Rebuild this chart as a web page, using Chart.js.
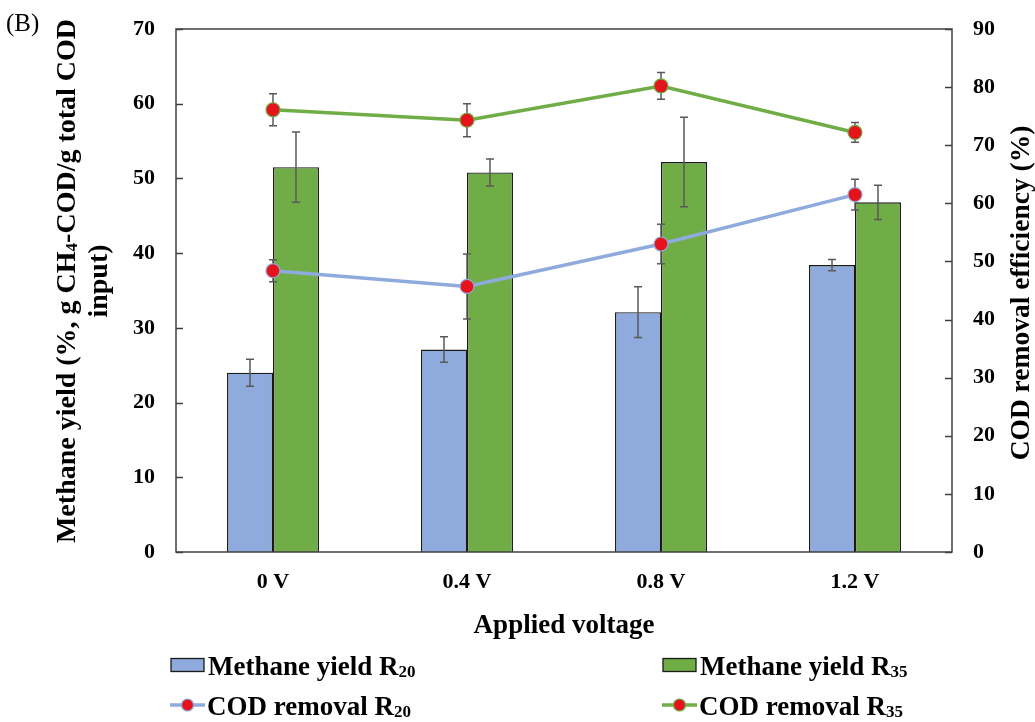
<!DOCTYPE html>
<html>
<head>
<meta charset="utf-8">
<script src="https://cdn.jsdelivr.net/npm/chart.js@4.4.1/dist/chart.umd.min.js"></script>
<style>
  html, body { margin: 0; padding: 0; background: #ffffff; }
  #wrap { width: 1035px; height: 722px; position: relative; }
</style>
</head>
<body>
<div id="wrap"><canvas id="chart" width="1035" height="722"></canvas></div>
<script>
// ---- data ----
const categories = ['0 V', '0.4 V', '0.8 V', '1.2 V'];

const yieldR20    = [24.0, 27.1, 32.1, 38.4];
const yieldR20Err = [1.8, 1.7, 3.4, 0.75];
const yieldR35    = [51.5, 50.8, 52.2, 46.8];
const yieldR35Err = [4.7, 1.8, 6.0, 2.3];

const codR20    = [48.4, 45.7, 53.0, 61.5];
const codR20Err = [1.9, 5.6, 3.4, 2.65];
const codR35    = [76.1, 74.3, 80.2, 72.2];
const codR35Err = [2.75, 2.85, 2.3, 1.7];

const yieldTicks = [0, 10, 20, 30, 40, 50, 60, 70];
const codTicks   = [0, 10, 20, 30, 40, 50, 60, 70, 80, 90];

// label text split into [main, subscript]
const legendLabels = [
  ['Methane yield R', '20'],
  ['Methane yield R', '35'],
  ['COD removal R', '20'],
  ['COD removal R', '35']
];

// ---- styles ----
const FONT = "'Liberation Serif', 'Times New Roman', serif";
const BLUE = '#8FAADC';
const GREEN = '#70AD47';
const RED = '#E5141C';
const AXIS = '#404040';
const ERR = '#595959';

function fontStr(size, bold) {
  return (bold ? 'bold ' : '') + size + 'px ' + FONT;
}

// text made of segments, some of them subscripted
function richWidth(ctx, segs, size) {
  let w = 0;
  for (const s of segs) {
    ctx.font = fontStr(s.sub ? Math.round(size * 0.62) : size, true);
    w += ctx.measureText(s.t).width;
  }
  return w;
}
function drawRich(ctx, segs, x, baseline, size) {
  let cx = x;
  ctx.textAlign = 'left';
  ctx.textBaseline = 'alphabetic';
  for (const s of segs) {
    const sz = s.sub ? Math.round(size * 0.62) : size;
    ctx.font = fontStr(sz, true);
    ctx.fillText(s.t, cx, baseline + (s.sub ? size * 0.08 : 0));
    cx += ctx.measureText(s.t).width;
  }
}

// error bars drawn from each dataset's err array
const errorBars = {
  id: 'errorBars',
  drawFor(chart, idx) {
    const ds = chart.data.datasets[idx];
    if (!ds.err) return;
    const meta = chart.getDatasetMeta(idx);
    const scale = chart.scales[ds.yAxisID || 'y'];
    const ctx = chart.ctx;
    ctx.save();
    ctx.strokeStyle = ERR;
    ctx.lineWidth = 1.5;
    meta.data.forEach((el, i) => {
      const v = ds.data[i], e = ds.err[i];
      const x = el.x;
      const yTop = scale.getPixelForValue(v + e);
      const yBot = scale.getPixelForValue(v - e);
      ctx.beginPath();
      ctx.moveTo(x, yTop); ctx.lineTo(x, yBot);
      ctx.moveTo(x - 4, yTop); ctx.lineTo(x + 4, yTop);
      ctx.moveTo(x - 4, yBot); ctx.lineTo(x + 4, yBot);
      ctx.stroke();
    });
    ctx.restore();
  },
  beforeDatasetDraw(chart, args) {
    if (chart.data.datasets[args.index].type === 'line') this.drawFor(chart, args.index);
  },
  afterDatasetDraw(chart, args) {
    if (chart.data.datasets[args.index].type !== 'line') this.drawFor(chart, args.index);
  }
};

// frame, inward ticks, axis titles, panel tag and legend
const decorations = {
  id: 'decorations',
  afterDraw(chart) {
    const ctx = chart.ctx;
    const a = chart.chartArea;
    const yS = chart.scales.y, y1S = chart.scales.y1;
    ctx.save();

    // frame
    ctx.strokeStyle = AXIS;
    ctx.lineWidth = 1.5;
    ctx.strokeRect(a.left, a.top, a.right - a.left, a.bottom - a.top);

    // inward tick marks
    ctx.beginPath();
    yieldTicks.forEach(v => {
      const y = Math.round(yS.getPixelForValue(v)) + 0.5;
      ctx.moveTo(a.left, y); ctx.lineTo(a.left + 7, y);
    });
    codTicks.forEach(v => {
      const y = Math.round(y1S.getPixelForValue(v)) + 0.5;
      ctx.moveTo(a.right, y); ctx.lineTo(a.right - 7, y);
    });
    ctx.stroke();

    ctx.fillStyle = '#000';

    // panel tag
    ctx.font = fontStr(25, false);
    ctx.textAlign = 'left';
    ctx.textBaseline = 'alphabetic';
    ctx.fillText('(B)', 6, 31);

    // x title
    ctx.font = fontStr(27, true);
    ctx.textAlign = 'center';
    ctx.fillText('Applied voltage', (a.left + a.right) / 2, 633);

    // left title (two lines, rotated)
    const line1 = [{ t: 'Methane yield (%, g CH' }, { t: '4', sub: true }, { t: '-COD/g total COD' }];
    const line2 = [{ t: 'input)' }];
    const cy = 281;
    [[line1, 75], [line2, 107]].forEach(([segs, bx]) => {
      ctx.save();
      ctx.translate(bx, cy);
      ctx.rotate(-Math.PI / 2);
      const w = richWidth(ctx, segs, 28);
      drawRich(ctx, segs, -w / 2, 0, 28);
      ctx.restore();
    });

    // right title (rotated, reading upward)
    ctx.save();
    ctx.translate(1029, 293);
    ctx.rotate(-Math.PI / 2);
    ctx.font = fontStr(27.5, true);
    ctx.textAlign = 'center';
    ctx.textBaseline = 'alphabetic';
    ctx.fillText('COD removal efficiency (%)', 0, 0);
    ctx.restore();

    // legend
    const ds = chart.data.datasets;
    const entries = [
      { ds: ds[0], label: legendLabels[0], x: 171, y: 665, kind: 'box' },
      { ds: ds[1], label: legendLabels[1], x: 663, y: 665, kind: 'box' },
      { ds: ds[2], label: legendLabels[2], x: 170, y: 705, kind: 'line' },
      { ds: ds[3], label: legendLabels[3], x: 662, y: 705, kind: 'line' }
    ];
    entries.forEach(en => {
      if (en.kind === 'box') {
        ctx.fillStyle = en.ds.backgroundColor;
        ctx.fillRect(en.x, en.y - 6.5, 33, 13);
        ctx.strokeStyle = '#1a1a1a';
        ctx.lineWidth = 1.3;
        ctx.strokeRect(en.x, en.y - 6.5, 33, 13);
      } else {
        ctx.strokeStyle = en.ds.borderColor;
        ctx.lineWidth = 3.5;
        ctx.beginPath();
        ctx.moveTo(en.x, en.y); ctx.lineTo(en.x + 35, en.y);
        ctx.stroke();
        ctx.beginPath();
        ctx.arc(en.x + 17.5, en.y, 6, 0, Math.PI * 2);
        ctx.fillStyle = RED;
        ctx.fill();
        ctx.lineWidth = 1.2;
        ctx.stroke();
      }
      ctx.fillStyle = '#000';
      drawRich(ctx, [{ t: en.label[0] }, { t: en.label[1], sub: true }], en.x + 37, en.y + 9.5, 27);
    });

    ctx.restore();
  }
};

const tickFont = { family: FONT, size: 22, weight: 'bold' };

// vertical axes: fixed widths, no extra label overhang padding
function fitVertical(width) {
  return s => {
    s.width = width;
    s.paddingTop = 0;
    s.paddingBottom = 0;
  };
}

new Chart(document.getElementById('chart'), {
  type: 'bar',
  data: {
    labels: categories,
    datasets: [
      {
        type: 'bar', label: 'Methane yield R20', data: yieldR20, err: yieldR20Err,
        yAxisID: 'y', backgroundColor: BLUE, borderColor: '#1a1a1a', borderWidth: 1.4,
        barPercentage: 1, categoryPercentage: 0.474, order: 2
      },
      {
        type: 'bar', label: 'Methane yield R35', data: yieldR35, err: yieldR35Err,
        yAxisID: 'y', backgroundColor: GREEN, borderColor: '#1a1a1a', borderWidth: 1.4,
        barPercentage: 1, categoryPercentage: 0.474, order: 2
      },
      {
        type: 'line', label: 'COD removal R20', data: codR20, err: codR20Err,
        yAxisID: 'y1', borderColor: BLUE, borderWidth: 3.5, tension: 0,
        pointRadius: 7, pointBackgroundColor: RED, pointBorderColor: BLUE,
        pointBorderWidth: 1.2, fill: false, order: 1
      },
      {
        type: 'line', label: 'COD removal R35', data: codR35, err: codR35Err,
        yAxisID: 'y1', borderColor: GREEN, borderWidth: 3.5, tension: 0,
        pointRadius: 7, pointBackgroundColor: RED, pointBorderColor: GREEN,
        pointBorderWidth: 1.2, fill: false, order: 1
      }
    ]
  },
  options: {
    responsive: false,
    animation: false,
    devicePixelRatio: 1,
    layout: { padding: { top: 29, left: 0, right: 0, bottom: 0 } },
    plugins: { legend: { display: false }, tooltip: { enabled: false } },
    scales: {
      x: {
        grid: { display: false, drawTicks: false, tickLength: 0 },
        border: { display: false },
        ticks: { font: tickFont, color: '#000', padding: 17 },
        afterFit: s => { s.height = 170; }
      },
      y: {
        position: 'left', min: 0, max: 70,
        grid: { display: false, drawTicks: false, tickLength: 0 },
        border: { display: false },
        ticks: { stepSize: 10, font: tickFont, color: '#000', padding: 21 },
        afterFit: fitVertical(176)
      },
      y1: {
        position: 'right', min: 0, max: 90,
        grid: { display: false, drawTicks: false, tickLength: 0 },
        border: { display: false },
        ticks: { stepSize: 10, font: tickFont, color: '#000', padding: 21 },
        afterFit: fitVertical(83)
      }
    }
  },
  plugins: [errorBars, decorations]
});
</script>
</body>
</html>
